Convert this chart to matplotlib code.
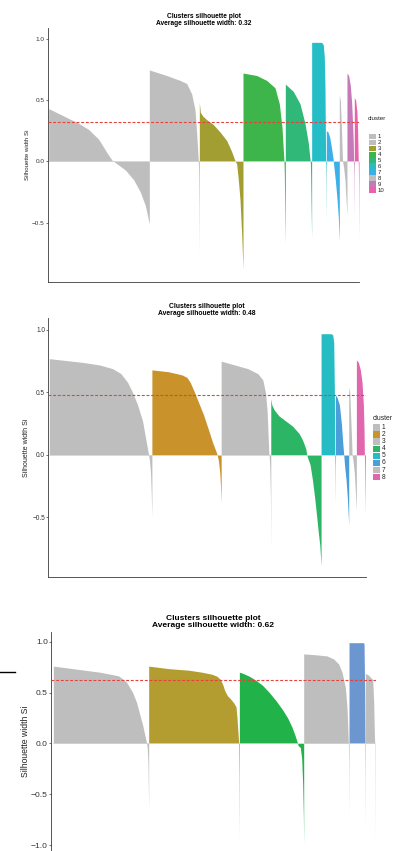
#!/usr/bin/env python3
"""Silhouette plots for k-means runs with 10, 8 and 6 clusters, stacked."""
import matplotlib
matplotlib.use("Agg")
import matplotlib.pyplot as plt
from matplotlib.lines import Line2D
from matplotlib.patches import Rectangle

plt.rcParams["font.family"] = ["Liberation Sans", "DejaVu Sans"]

W, H = 395, 851
GREY = "#BEBEBE"

# ---- k = 10 -------------------------------------------------------------
k10_avg = 0.32
k10_labels = ["1", "2", "3", "4", "5", "6", "7", "8", "9", "10"]
k10_colors = [GREY, GREY, "#A29E32", "#3DB54A", "#2FB877", "#25BEC6",
              "#3AAFE8", GREY, "#C47AB8", "#EC62A8"]
k10_sizes = [302, 150, 131, 127, 79, 44, 39, 23, 22, 14]
# (rank inside cluster, silhouette width) along each sorted cluster
k10_profiles = [
    [(0, 0.43), (30, 0.39), (60, 0.35), (90, 0.31), (120, 0.26), (150, 0.18),
     (175, 0.07), (190, 0.01), (205, -0.02), (230, -0.07), (255, -0.15),
     (275, -0.25), (290, -0.36), (302, -0.51)],
    [(0, 0.745), (52, 0.70), (92, 0.66), (112, 0.635), (127, 0.55), (137, 0.42),
     (142, 0.23), (146, 0.05), (147, 0.0), (148, -0.1), (149, -0.35), (150, -0.75)],
    [(0, 0.48), (3, 0.40), (10, 0.37), (22, 0.34), (42, 0.30), (62, 0.24),
     (82, 0.17), (97, 0.08), (105, 0.02), (108, 0.0), (112, -0.02), (117, -0.15),
     (122, -0.31), (127, -0.59), (131, -0.88)],
    [(0, 0.72), (41, 0.70), (71, 0.66), (96, 0.60), (109, 0.47), (117, 0.28),
     (122, 0.05), (123, 0.0), (124, -0.1), (125, -0.3), (127, -0.67)],
    [(0, 0.63), (24, 0.57), (44, 0.47), (59, 0.31), (69, 0.15), (74, 0.02),
     (75, 0.0), (76, -0.1), (77, -0.3), (79, -0.62)],
    [(0, 0.97), (30, 0.97), (35, 0.95), (38, 0.85), (40, 0.6), (41, 0.3),
     (42, 0.0), (43, -0.1), (44, -0.48)],
    [(0, 0.25), (5, 0.24), (10, 0.20), (15, 0.12), (20, 0.03), (21, 0.0),
     (23, -0.05), (27, -0.15), (32, -0.30), (36, -0.45), (39, -0.65)],
    [(0, 0.54), (3, 0.50), (6, 0.30), (9, 0.05), (10, 0.0), (13, -0.05),
     (17, -0.15), (20, -0.30), (23, -0.44)],
    [(0, 0.72), (5, 0.70), (10, 0.62), (14, 0.48), (17, 0.30), (19, 0.15),
     (20, 0.0), (21, -0.1), (22, -0.46)],
    [(0, 0.52), (4, 0.50), (8, 0.40), (10, 0.25), (11, 0.10), (12, 0.0),
     (13, -0.2), (14, -0.63)],
]

# ---- k = 8 --------------------------------------------------------------
k8_avg = 0.48
k8_labels = ["1", "2", "3", "4", "5", "6", "7", "8"]
k8_colors = [GREY, "#C9922B", GREY, "#2DB566", "#25BCC4", "#4A9FDB", GREY, "#E066AE"]
k8_sizes = [308, 208, 149, 151, 43, 40, 23, 27]
k8_profiles = [
    [(0, 0.77), (50, 0.755), (100, 0.74), (150, 0.72), (190, 0.69), (215, 0.65),
     (235, 0.58), (250, 0.50), (265, 0.40), (280, 0.27), (290, 0.12), (296, 0.03),
     (298, 0.0), (301, -0.05), (304, -0.15), (306, -0.30), (308, -0.50)],
    [(0, 0.68), (50, 0.665), (90, 0.64), (105, 0.62), (115, 0.58), (125, 0.52),
     (140, 0.42), (155, 0.32), (170, 0.20), (182, 0.10), (192, 0.03), (196, 0.0),
     (200, -0.05), (204, -0.15), (206, -0.25), (208, -0.39)],
    [(0, 0.75), (40, 0.72), (80, 0.69), (110, 0.65), (125, 0.60), (133, 0.50),
     (138, 0.35), (141, 0.15), (143, 0.02), (144, 0.0), (146, -0.1), (148, -0.35),
     (149, -0.75)],
    [(0, 0.45), (3, 0.40), (10, 0.36), (25, 0.31), (45, 0.27), (65, 0.23),
     (85, 0.17), (95, 0.12), (105, 0.05), (108, 0.0), (110, -0.02), (118, -0.08),
     (125, -0.20), (132, -0.35), (138, -0.50), (143, -0.63), (147, -0.72),
     (151, -0.89)],
    [(0, 0.97), (30, 0.97), (35, 0.96), (38, 0.90), (40, 0.50), (41, 0.0),
     (42, -0.1), (43, -0.40)],
    [(0, 0.48), (5, 0.46), (12, 0.40), (18, 0.25), (22, 0.10), (25, 0.0),
     (28, -0.10), (32, -0.20), (36, -0.35), (40, -0.56)],
    [(0, 0.54), (3, 0.50), (6, 0.30), (9, 0.10), (10, 0.0), (13, -0.05),
     (17, -0.15), (20, -0.30), (23, -0.45)],
    [(0, 0.76), (6, 0.74), (12, 0.68), (17, 0.58), (21, 0.40), (23, 0.20),
     (24, 0.0), (25, -0.1), (27, -0.47)],
]

# ---- k = 6 --------------------------------------------------------------
k6_avg = 0.62
k6_colors = [GREY, "#B39D30", "#22B24A", GREY, "#6B96CF", GREY]
k6_sizes = [286, 272, 193, 136, 49, 29]
k6_profiles = [
    [(0, 0.76), (70, 0.73), (140, 0.70), (195, 0.665), (210, 0.63), (220, 0.60),
     (238, 0.50), (250, 0.40), (258, 0.30), (268, 0.18), (276, 0.06), (280, 0.0),
     (282, -0.05), (284, -0.2), (286, -0.65)],
    [(0, 0.76), (60, 0.735), (120, 0.72), (160, 0.70), (190, 0.68), (205, 0.66),
     (215, 0.63), (222, 0.58), (228, 0.52), (236, 0.47), (245, 0.44), (255, 0.40),
     (262, 0.36), (265, 0.25), (268, 0.10), (270, 0.0), (271, -0.3), (272, -0.95)],
    [(0, 0.70), (10, 0.69), (30, 0.66), (50, 0.62), (70, 0.57), (90, 0.50),
     (110, 0.42), (130, 0.33), (145, 0.25), (158, 0.16), (167, 0.08), (173, 0.02),
     (175, 0.0), (176, -0.02), (183, -0.04), (187, -0.15), (190, -0.40),
     (192, -0.70), (193, -0.98)],
    [(0, 0.88), (40, 0.87), (70, 0.86), (90, 0.83), (105, 0.78), (115, 0.70),
     (125, 0.55), (130, 0.35), (133, 0.10), (134, 0.0), (135, -0.2), (136, -0.70)],
    [(0, 0.99), (43, 0.99), (45, 0.98), (47, 0.50), (48, 0.0), (48.5, -0.3),
     (49, -0.81)],
    [(0, 0.69), (10, 0.67), (18, 0.64), (22, 0.63), (25, 0.40), (27, 0.10),
     (28, 0.0), (29, -0.95)],
]

yticks = [-1.0, -0.5, 0.0, 0.5, 1.0]


def px_rect(x0, y0, x1, y1):
    """Axes rectangle from pixel box (top-left origin) to figure fractions."""
    return [x0 / W, 1 - y1 / H, (x1 - x0) / W, (y1 - y0) / H]


def silhouette_panel(ax, sizes, profiles, colors, avg, xlim, ylim, fs, title_fs, label_fs, pad):
    start = 0
    for n, prof, col in zip(sizes, profiles, colors):
        x = [start + r for r, _ in prof]
        y = [s for _, s in prof]
        ax.fill_between(x, 0, y, color=col, lw=0, zorder=2)
        start += n
    ax.hlines(0, 0, start, color="#D4D4D4", lw=0.6, zorder=3)
    ax.axhline(avg, color="#E8413A", lw=0.8, ls=(0, (2.6, 1.6)), zorder=4)

    ax.set_xlim(*xlim)
    ax.set_ylim(*ylim)
    ticks = [t for t in yticks if ylim[0] <= t <= ylim[1]]
    ax.set_yticks(ticks)
    ax.set_yticklabels([f"{t:.1f}".replace("-", "\u2212") for t in ticks])
    ax.set_xticks([])
    for side in ("top", "right"):
        ax.spines[side].set_visible(False)
    for side in ("left", "bottom"):
        ax.spines[side].set_color("#3A3A3A")
        ax.spines[side].set_linewidth(0.6)
    ax.tick_params(axis="y", labelsize=fs, length=1.3, width=0.5, pad=1,
                   colors="#3A3A3A", labelcolor="#333333")
    ax.set_ylabel("Silhouette width Si", fontsize=label_fs, color="#222222")
    ax.set_title(f"Clusters silhouette plot\nAverage silhouette width: {avg:.2f}",
                 fontsize=title_fs, fontweight="bold", linespacing=0.95, pad=pad)


def cluster_legend(fig, x0, y_title, y_top, row_h, key_w, labels, colors, fs, title_fs):
    n = len(labels)
    fig.text(x0 / W, 1 - y_title / H, "cluster", fontsize=title_fs,
             va="center", ha="left", color="#222222")
    lax = fig.add_axes(px_rect(x0, y_top, x0 + 20, y_top + n * row_h))
    lax.set_xlim(0, 20)
    lax.set_ylim(n * row_h, 0)
    lax.axis("off")
    for i, (lab, col) in enumerate(zip(labels, colors)):
        lax.add_patch(Rectangle((1, i * row_h + 0.3), key_w, row_h - 0.6,
                                color=col, lw=0))
        lax.text(key_w + 3, (i + 0.5) * row_h, lab, fontsize=fs,
                 va="center", ha="left", color="#222222")


fig = plt.figure(figsize=(W / 100, H / 100), dpi=100)

ax1 = fig.add_axes(px_rect(47.7, 28, 359.3, 282))
silhouette_panel(ax1, k10_sizes, k10_profiles, k10_colors, k10_avg,
                 (-3, 932), (-0.983, 1.087), 4.6, 4.8, 4.4, 2.5)
ax1.yaxis.set_label_coords(-0.056, 0.5)
cluster_legend(fig, 368, 118, 133.3, 5.97, 6.7, k10_labels, k10_colors, 4.3, 4.5)

ax2 = fig.add_axes(px_rect(48.3, 318, 365.7, 577))
silhouette_panel(ax2, k8_sizes, k8_profiles, k8_colors, k8_avg,
                 (-3, 950), (-0.981, 1.096), 4.7, 4.9, 5.0, 2.5)
ax2.yaxis.set_label_coords(-0.057, 0.5)
cluster_legend(fig, 372.3, 418.3, 424, 7.08, 6.6, k8_labels, k8_colors, 4.8, 4.9)

ax3 = fig.add_axes(px_rect(51, 632, 375.7, 851))
silhouette_panel(ax3, k6_sizes, k6_profiles, k6_colors, k6_avg,
                 (-7, 967), (-1.056, 1.095), 6.1, 6.0, 6.2, 3.5)
ax3.yaxis.set_label_coords(-0.066, 0.5)

# short rule at the left margin beside the last panel
fig.add_artist(Line2D([0, 15 / W], [1 - 672 / H] * 2, color="black", lw=1.0))

fig.savefig("out.png", dpi=100)
